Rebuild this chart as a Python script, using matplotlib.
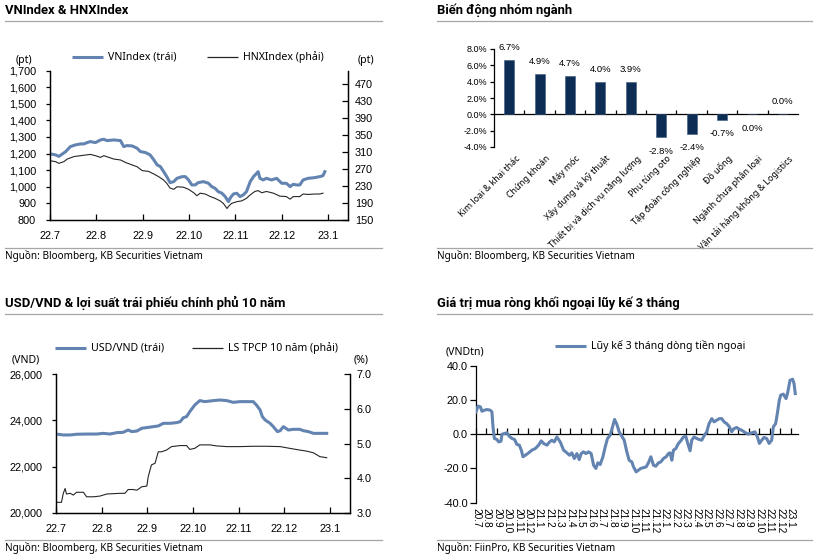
import matplotlib
matplotlib.use("Agg")
import matplotlib.pyplot as plt
from matplotlib.lines import Line2D
from matplotlib.ticker import FuncFormatter
import matplotlib.transforms as mtransforms

W, H = 815, 556
BLUE = "#6384B1"
NAVY = "#0E2D55"
GREY = "#A6A6A6"
TXT = "Noto Sans"
NUM = "Liberation Sans"

# ---- VNIndex & HNXIndex (x = months since 1 Jul 2022) ----
month_labels_22 = ["22.7", "22.8", "22.9", "22.10", "22.11", "22.12", "23.1"]

vn_month = [0.01, 0.12, 0.19, 0.27, 0.34, 0.44, 0.55, 0.66, 0.73, 0.80, 0.87, 0.98,
            1.09, 1.16, 1.23, 1.38, 1.52, 1.59, 1.66, 1.77, 1.88, 1.95, 2.06, 2.16,
            2.24, 2.31, 2.38, 2.45, 2.52, 2.59, 2.67, 2.74, 2.85, 2.92, 2.99, 3.06,
            3.13, 3.20, 3.31, 3.42, 3.49, 3.56, 3.63, 3.71, 3.78, 3.85, 3.90, 3.96,
            4.03, 4.10, 4.17, 4.24, 4.32, 4.39, 4.46, 4.49, 4.53, 4.60, 4.67, 4.78,
            4.89, 5.00, 5.10, 5.18, 5.25, 5.32, 5.39, 5.46, 5.57, 5.71, 5.82, 5.89, 5.93]
vn_index = [1198, 1192, 1183, 1198, 1212, 1242, 1252, 1258, 1258, 1266, 1272, 1266,
            1282, 1286, 1278, 1282, 1278, 1242, 1248, 1246, 1232, 1212, 1206, 1192,
            1162, 1132, 1122, 1092, 1061, 1025, 1031, 1051, 1061, 1061, 1041, 1011,
            1011, 1025, 1031, 1021, 1001, 991, 971, 961, 941, 911, 937, 957,
            961, 941, 951, 971, 1031, 1061, 1081, 1091, 1051, 1041, 1051, 1041,
            1051, 1021, 1021, 1001, 1015, 1011, 1011, 1041, 1051, 1055, 1061, 1067, 1091]

hnx_month = [0.01, 0.12, 0.19, 0.30, 0.37, 0.52, 0.66, 0.80, 0.87, 0.98, 1.09, 1.16,
             1.27, 1.38, 1.52, 1.63, 1.73, 1.88, 1.99, 2.13, 2.24, 2.34, 2.45, 2.52,
             2.59, 2.67, 2.74, 2.88, 2.99, 3.10, 3.17, 3.24, 3.35, 3.46, 3.56, 3.67,
             3.74, 3.82, 3.86, 3.92, 4.03, 4.14, 4.24, 4.32, 4.42, 4.49, 4.57, 4.67,
             4.82, 4.96, 5.10, 5.18, 5.25, 5.39, 5.46, 5.57, 5.71, 5.82, 5.89]
hnx_index = [289, 287, 283, 287, 293, 299, 301, 303, 304, 301, 297, 301,
             297, 293, 291, 285, 281, 275, 266, 264, 258, 252, 244, 236,
             225, 222, 228, 227, 222, 214, 207, 213, 211, 205, 201, 195,
             189, 177, 183, 189, 193, 195, 201, 209, 217, 219, 214, 217,
             213, 206, 205, 199, 205, 205, 211, 210, 211, 211, 213]

# ---- Sector performance (%) ----
sectors = ["Kim loại & khai thác", "Chứng khoán", "Máy móc", "Xây dựng và kỹ thuật",
           "Thiết bị và dịch vụ năng lượng", "Phụ tùng oto", "Tập đoàn công nghiệp",
           "Đồ uống", "Ngành chưa phân loại", "Vận tải hàng không & Logistics"]
sector_change = [6.7, 4.9, 4.7, 4.0, 3.9, -2.8, -2.4, -0.7, -0.001, 0.001]

# ---- USD/VND & 10Y government bond yield ----
usd_month = [0.00, 0.16, 0.31, 0.45, 0.67, 0.89, 1.04, 1.18, 1.33, 1.47, 1.58, 1.66,
             1.77, 1.88, 1.99, 2.13, 2.24, 2.35, 2.50, 2.64, 2.72, 2.79, 2.86, 2.93,
             3.04, 3.15, 3.26, 3.45, 3.59, 3.74, 3.88, 4.03, 4.18, 4.32, 4.39, 4.47,
             4.52, 4.58, 4.69, 4.76, 4.85, 4.91, 4.98, 5.09, 5.20, 5.34, 5.42, 5.53,
             5.64, 5.78, 5.93]
usd_vnd = [23410, 23370, 23370, 23400, 23410, 23410, 23440, 23410, 23470, 23485, 23585, 23515,
           23540, 23660, 23690, 23730, 23760, 23875, 23875, 23905, 23945, 24120, 24165, 24380,
           24670, 24860, 24815, 24860, 24885, 24860, 24785, 24815, 24815, 24815, 24670, 24455,
           24165, 24020, 23875, 23730, 23515, 23555, 23730, 23585, 23615, 23615, 23555, 23515,
           23440, 23440, 23440]

bond_month = [0.00, 0.12, 0.16, 0.20, 0.23, 0.31, 0.38, 0.45, 0.60, 0.67, 0.82, 0.96,
              1.11, 1.40, 1.51, 1.58, 1.69, 1.77, 1.88, 1.99, 2.02, 2.09, 2.17, 2.24,
              2.31, 2.42, 2.53, 2.72, 2.86, 2.93, 3.04, 3.15, 3.37, 3.52, 3.74, 4.03,
              4.32, 4.61, 4.91, 5.12, 5.34, 5.49, 5.64, 5.78, 5.93]
bond_yield = [3.30, 3.30, 3.56, 3.70, 3.54, 3.56, 3.51, 3.59, 3.59, 3.46, 3.46, 3.48,
              3.54, 3.56, 3.56, 3.67, 3.67, 3.65, 3.75, 3.77, 4.04, 4.38, 4.43, 4.76,
              4.76, 4.81, 4.91, 4.94, 4.94, 4.83, 4.86, 4.96, 4.96, 4.93, 4.91, 4.91,
              4.92, 4.92, 4.91, 4.86, 4.81, 4.78, 4.73, 4.62, 4.59]

# ---- Foreign net buying, 3-month rolling (x = months since 1 Jul 2020) ----
month_labels_20 = ["20.7", "20.8", "20.9", "20.10", "20.11", "20.12",
                   "21.1", "21.2", "21.3", "21.4", "21.5", "21.6", "21.7", "21.8", "21.9",
                   "21.10", "21.11", "21.12", "22.1", "22.2", "22.3", "22.4", "22.5", "22.6",
                   "22.7", "22.8", "22.9", "22.10", "22.11", "22.12", "23.1"]
flow_month = [0.00, 0.19, 0.41, 0.57, 0.79, 1.05, 1.37, 1.52, 1.62, 1.75, 2.00, 2.16,
              2.38, 2.48, 2.73, 2.95, 3.17, 3.43, 3.68, 3.90, 4.13, 4.32, 4.48, 4.70,
              5.02, 5.33, 5.65, 5.97, 6.22, 6.44, 6.76, 7.02, 7.24, 7.46, 7.71, 8.03,
              8.35, 8.67, 8.92, 9.14, 9.37, 9.62, 9.84, 10.03, 10.25, 10.48, 10.73, 10.98,
              11.21, 11.43, 11.62, 11.84, 12.10, 12.32, 12.54, 12.79, 13.02, 13.21, 13.43, 13.65,
              13.90, 14.13, 14.38, 14.60, 14.86, 15.02, 15.27, 15.49, 15.71, 15.97, 16.22, 16.44,
              16.67, 16.92, 17.14, 17.40, 17.62, 17.87, 18.13, 18.35, 18.51, 18.67, 18.83, 19.05,
              19.30, 19.52, 19.78, 20.00, 20.19, 20.41, 20.57, 20.79, 21.05, 21.27, 21.52, 21.78,
              22.00, 22.22, 22.48, 22.70, 22.95, 23.21, 23.43, 23.65, 23.90, 24.16, 24.38, 24.60,
              24.86, 25.11, 25.33, 25.65, 25.97, 26.29, 26.60, 26.83, 27.02, 27.24, 27.46, 27.71,
              27.94, 28.19, 28.35, 28.57, 28.73, 28.92, 29.05, 29.30, 29.56, 29.71, 29.94, 30.19,
              30.32, 30.44]
flow_value = [13.0, 16.4, 16.0, 13.4, 14.0, 14.4, 14.0, 13.0, 4.3, -2.5, -3.1, -4.5,
              -4.1, 0.0, 0.4, 0.8, -1.2, -2.5, -3.1, -6.0, -6.4, -9.3, -13.2, -12.3,
              -10.9, -9.3, -8.4, -6.4, -3.9, -5.4, -6.4, -4.5, -3.5, -4.5, -1.6, -4.5,
              -9.3, -10.9, -12.3, -10.9, -14.2, -11.3, -14.8, -11.3, -10.3, -11.3, -10.3, -11.3,
              -18.1, -20.0, -16.7, -17.7, -13.2, -7.4, -2.5, -0.6, 4.3, 8.6, 5.8, 1.4,
              -1.2, -3.5, -10.3, -15.2, -16.2, -19.1, -22.0, -21.0, -20.0, -19.5, -19.1, -16.7,
              -13.2, -18.1, -18.7, -16.7, -16.2, -14.2, -13.2, -11.3, -10.9, -15.2, -9.3, -8.4,
              -5.4, -3.9, -1.6, -1.2, -5.4, -9.7, -3.5, -1.6, -2.5, -3.1, -3.5, -0.6,
              1.4, 6.2, 9.1, 7.2, 8.2, 9.1, 9.1, 7.2, 6.2, 4.3, 1.4, 3.3,
              3.9, 2.9, 2.3, 1.0, 0.0, 0.8, 1.4, -1.6, -5.4, -3.5, -1.9, -2.5,
              -5.4, -3.5, 4.3, 6.2, 12.1, 19.9, 22.8, 23.4, 20.8, 24.1, 31.5, 32.1,
              29.6, 23.7]


def box(left, top, right, bottom):
    return [left / W, 1 - bottom / H, (right - left) / W, (bottom - top) / H]


def fig_text(fig, x, y, s, **kw):
    kw.setdefault("family", TXT)
    kw.setdefault("va", "center")
    return fig.text(x / W, 1 - y / H, s, **kw)


def frame(fig, x0, x1, y_title, y_rule, y_foot, title, source):
    fig_text(fig, x0, y_title, title, fontsize=9.4, fontweight="bold",
             family=["Roboto", "Open Sans"])
    for y in (y_rule, y_foot):
        fig.add_artist(Line2D([x0 / W, x1 / W], [1 - y / H] * 2, color=GREY, lw=0.9))
    fig_text(fig, x0, y_foot + 8, source, fontsize=7.2)


def legend_item(fig, x, y, color, lw, label):
    fig.add_artist(Line2D([x / W, (x + 31) / W], [1 - y / H] * 2, color=color, lw=lw,
                          solid_capstyle="butt"))
    fig_text(fig, x + 36, y, label, fontsize=7.6)


def style_dual(ax, axr):
    for a in (ax, axr):
        a.spines["top"].set_visible(False)
        for s in ("left", "right", "bottom"):
            a.spines[s].set_linewidth(0.9)
    ax.tick_params(axis="y", direction="out", length=3, width=0.9, pad=7, labelsize=7.8)
    ax.tick_params(axis="x", direction="in", length=4, width=0.9, pad=8, labelsize=7.8)
    axr.tick_params(axis="y", direction="in", length=4, width=0.9, pad=5, labelsize=7.8)
    for lab in ax.get_xticklabels() + ax.get_yticklabels() + axr.get_yticklabels():
        lab.set_family(NUM)


fig = plt.figure(figsize=(W / 100, H / 100), dpi=100)
comma = FuncFormatter(lambda v, p: f"{v:,.0f}")

# ---------------- Panel 1 ----------------
frame(fig, 5, 382, 10, 21, 248, "VNIndex & HNXIndex", "Nguồn: Bloomberg, KB Securities Vietnam")
ax1 = fig.add_axes(box(50, 70.5, 348, 220))
ax1.plot(vn_month, vn_index, color=BLUE, lw=2.2, zorder=3)
ax1.set_xlim(0, 6.43)
ax1.set_ylim(800, 1700)
ax1.set_yticks(range(800, 1701, 100))
ax1.yaxis.set_major_formatter(comma)
ax1.set_xticks(range(len(month_labels_22)))
ax1.set_xticklabels(month_labels_22)
ax1r = ax1.twinx()
ax1r.plot(hnx_month, hnx_index, color="#262626", lw=0.8)
ax1r.set_ylim(150, 501)
ax1r.set_yticks(range(150, 471, 40))
style_dual(ax1, ax1r)
legend_item(fig, 72, 57, BLUE, 2.2, "VNIndex (trái)")
legend_item(fig, 207, 57, "#262626", 0.9, "HNXIndex (phải)")
fig_text(fig, 24, 60, "(pt)", fontsize=7.6, ha="center")
fig_text(fig, 366, 60, "(pt)", fontsize=7.6, ha="center")

# ---------------- Panel 2 ----------------
frame(fig, 437, 812, 10, 21, 248, "Biến động nhóm ngành", "Nguồn: Bloomberg, KB Securities Vietnam")
ax2 = fig.add_axes(box(494, 49, 798, 147))
pos = range(len(sectors))
ax2.bar(pos, sector_change, width=0.33, color=NAVY, edgecolor="#3C5A80", linewidth=0.4, zorder=3)
ax2.set_xlim(-0.5, len(sectors) - 0.5)
ax2.set_ylim(-4, 8)
ax2.set_yticks(range(-4, 9, 2))
ax2.yaxis.set_major_formatter(FuncFormatter(lambda v, p: f"{v:.1f}%"))
for s in ("top", "right"):
    ax2.spines[s].set_visible(False)
ax2.spines["bottom"].set_position(("data", 0))
ax2.spines["bottom"].set_linewidth(0.9)
ax2.spines["left"].set_linewidth(0.9)
ax2.set_xticks([i + 0.5 for i in range(len(sectors) - 1)])
ax2.tick_params(axis="x", direction="in", length=3, width=0.9, labelbottom=False)
ax2.tick_params(axis="y", direction="out", length=3, width=0.9, pad=2, labelsize=6.5)
for lab in ax2.get_yticklabels():
    lab.set_family(NUM)
for i, v in enumerate(sector_change):
    off = 9 if v > 0 else -10
    ax2.annotate(f"{abs(v):.1f}%" if abs(v) < 0.05 else f"{v:.1f}%", (i, v),
                 xytext=(0, off), textcoords="offset points", ha="center", va="center",
                 fontsize=6.8, family=NUM)
    ax2.annotate(sectors[i], (i, 0), xycoords=("data", "axes fraction"),
                 xytext=(4, -5), textcoords="offset points", rotation=45,
                 rotation_mode="anchor", ha="right", va="top", fontsize=6.4, family=TXT)

# ---------------- Panel 3 ----------------
frame(fig, 5, 382, 303, 314, 540, "USD/VND & lợi suất trái phiếu chính phủ 10 năm",
      "Nguồn: Bloomberg, KB Securities Vietnam")
ax3 = fig.add_axes(box(56, 374.3, 350, 512.7))
ax3.plot(usd_month, usd_vnd, color=BLUE, lw=2.2, zorder=3)
ax3.set_xlim(0, 6.44)
ax3.set_ylim(20000, 26000)
ax3.set_yticks(range(20000, 26001, 2000))
ax3.yaxis.set_major_formatter(comma)
ax3.set_xticks(range(len(month_labels_22)))
ax3.set_xticklabels(month_labels_22)
ax3r = ax3.twinx()
ax3r.plot(bond_month, bond_yield, color="#262626", lw=0.8)
ax3r.set_ylim(3, 7)
ax3r.set_yticks([3, 4, 5, 6, 7])
ax3r.yaxis.set_major_formatter(FuncFormatter(lambda v, p: f"{v:.1f}"))
style_dual(ax3, ax3r)
legend_item(fig, 55, 348, BLUE, 2.2, "USD/VND (trái)")
legend_item(fig, 192, 348, "#262626", 0.9, "LS TPCP 10 năm (phải)")
fig_text(fig, 26, 360, "(VND)", fontsize=7.6, ha="center")
fig_text(fig, 361, 360, "(%)", fontsize=7.6, ha="center")

# ---------------- Panel 4 ----------------
frame(fig, 437, 812, 303, 314, 540, "Giá trị mua ròng khối ngoại lũy kế 3 tháng",
      "Nguồn: FiinPro, KB Securities Vietnam")
ax4 = fig.add_axes(box(476, 365.7, 798, 502.7))
ax4.plot(flow_month, flow_value, color=BLUE, lw=2.2, zorder=3)
ax4.set_xlim(0, 30.7)
ax4.set_ylim(-40, 40)
ax4.set_yticks(range(-40, 41, 20))
ax4.yaxis.set_major_formatter(FuncFormatter(lambda v, p: f"{v:.1f}"))
for s in ("top", "right"):
    ax4.spines[s].set_visible(False)
ax4.spines["bottom"].set_position(("data", 0))
ax4.spines["bottom"].set_linewidth(0.9)
ax4.spines["left"].set_linewidth(0.9)
ax4.set_xticks(range(len(month_labels_20)))
ax4.tick_params(axis="x", direction="in", length=4, width=0.9, labelbottom=False)
ax4.tick_params(axis="y", direction="out", length=4, width=0.9, pad=2, labelsize=7.8)
for lab in ax4.get_yticklabels():
    lab.set_family(NUM)
tr = mtransforms.blended_transform_factory(ax4.transData, ax4.transAxes)
for i, lab in enumerate(month_labels_20):
    ax4.annotate(lab, (i, 0), xycoords=tr, xytext=(0, -4), textcoords="offset points",
                 rotation=-90, ha="center", va="top", fontsize=7.3, family=NUM)
legend_item(fig, 555, 346, BLUE, 2.2, "Lũy kế 3 tháng dòng tiền ngoại")
fig_text(fig, 465, 352, "(VNDtn)", fontsize=7.6, ha="center")

fig.savefig("out.png", dpi=100)
